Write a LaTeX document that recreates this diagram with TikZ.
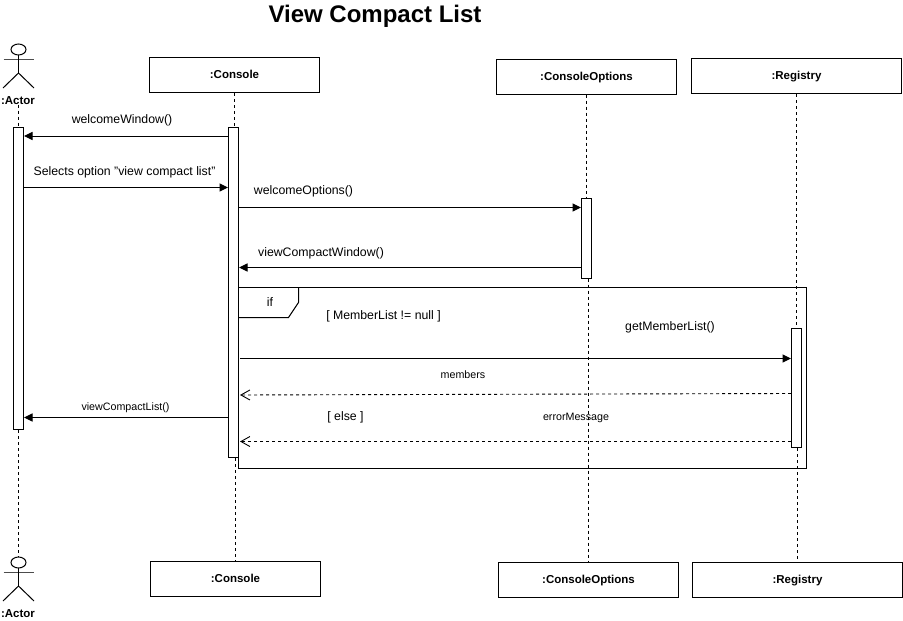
\documentclass[tikz,border=0pt]{standalone}
\usepackage{fontspec}
\setmainfont{Liberation Sans}
\usetikzlibrary{arrows.meta}
\tikzset{
  box/.style={draw,line width=1pt,fill=white,inner sep=0pt,text height=9pt,text depth=2pt,font=\fontsize{11.5}{13}\selectfont\bfseries},
  bar/.style={draw,line width=1pt,fill=white,inner sep=0pt,minimum width=10pt},
  life/.style={line width=1pt,dash pattern=on 3pt off 3pt},
  call/.style={line width=1pt,-{Triangle[length=8.5pt,width=8pt]}},
  reply/.style={line width=0.9pt,dash pattern=on 3pt off 3pt,-{Straight Barb[length=9pt,width=10pt]}},
  lbl/.style={inner sep=0pt,font=\fontsize{12.3}{14}\selectfont},
  small/.style={inner sep=0pt,font=\fontsize{10.7}{13}\selectfont},
  actorlbl/.style={inner sep=0pt,font=\fontsize{11.5}{13}\selectfont\bfseries}
}
\newcommand{\actorfig}[2]{%
  \draw[line width=1pt] (#1,#2) ellipse [x radius=7.5pt,y radius=5.5pt];
  \draw[line width=1pt,black!70] (#1-15,#2+9.5) -- (#1+15,#2+9.5);
  \draw[line width=1pt] (#1,#2+5.5) -- (#1,#2+23.5);
  \draw[line width=1pt] (#1-15.5,#2+38.5) -- (#1,#2+23.5) -- (#1+15.5,#2+38.5);
}
\begin{document}
\begin{tikzpicture}[x=1pt,y=-1pt]
\useasboundingbox[fill=white] (0,0) rectangle (903,621);
% title
\node[inner sep=0pt,font=\fontsize{24}{28}\selectfont\bfseries] (title) at (375,16) {View Compact List};
% frame
\node[draw,line width=1pt,minimum width=568pt,minimum height=181pt,inner sep=0pt] (frame) at (522.5,378) {};
\coordinate (tabA) at (238.5,317.5);
\coordinate (tabB) at (288.5,317.5);
\coordinate (tabC) at (298.5,302.5);
\coordinate (tabD) at (298.5,287.5);
\draw[line width=1pt] (tabA) -- (tabB) -- (tabC) -- (tabD);
% head boxes
\node[box,minimum width=170pt,minimum height=35pt] (conT) at (234.5,75) {:Console};
\node[box,minimum width=180pt,minimum height=35pt] (optT) at (586.5,76.5) {:ConsoleOptions};
\node[box,minimum width=210pt,minimum height=35pt] (regT) at (796.5,76) {:Registry};
\node[box,minimum width=170pt,minimum height=35pt] (conB) at (235.5,579) {:Console};
\node[box,minimum width=180pt,minimum height=35pt] (optB) at (588.5,579.5) {:ConsoleOptions};
\node[box,minimum width=210pt,minimum height=35pt] (regB) at (797.5,579.5) {:Registry};
% actors
\actorfig{18.5}{49.5}
\actorfig{18.5}{562.5}
\node[actorlbl] (actT) at (18,100.5) {:Actor};
\node[actorlbl] (actB) at (18,613.5) {:Actor};
\coordinate (headB) at (18.5,556.5);
% activations
\node[bar,minimum height=302.5pt] (barA) at (18.5,278.25) {};
\node[bar,minimum height=330.5pt] (barC) at (233.5,292.25) {};
\node[bar,minimum height=80pt] (barO) at (586.5,238) {};
\node[bar,minimum height=119.5pt] (barR) at (796.5,388) {};
% lifelines
\draw[life] (actT.south -| barA.north) -- (barA.north);
\draw[life] (barA.south) -- (headB);
\draw[life] (conT.south) -- (barC.north -| conT.south);
\draw[life] (barC.south -| conB.north) -- (conB.north);
\draw[life] (optT.south) -- (barO.north);
\draw[life] (barO.south -| optB.north) -- (optB.north);
\draw[life] (regT.south) -- (barR.north);
\draw[life] (barR.south -| regB.north) -- (regB.north);
% messages
\draw[call] (barC.west |- 0,136) -- (barA.east |- 0,136);
\draw[call] (barA.east |- 0,187.5) -- (barC.west |- 0,187.5);
\draw[call] (barC.east |- 0,207.5) -- (barO.west |- 0,207.5);
\draw[call] (barO.west |- 0,267.5) -- (barC.east |- 0,267.5);
\draw[call] (240,358.5) -- (barR.west |- 0,358.5);
\draw[reply] (barR.west |- 0,393.5) -- (240,395);
\draw[reply] (barR.west |- 0,441.5) -- (240,441.5);
\draw[call] (barC.west |- 0,417.5) -- (barA.east |- 0,417.5);
% labels
\node[lbl] (l1) at (122,120.5) {welcomeWindow()};
\node[lbl] (l2) at (124.5,172) {Selects option \symbol{34}view compact list\symbol{34}};
\node[lbl] (l3) at (303.5,191.5) {welcomeOptions()};
\node[lbl] (l4) at (321,253) {viewCompactWindow()};
\node[lbl] (l5) at (270,302.5) {if};
\node[lbl] (l6) at (383.5,316) {[ MemberList != null ]};
\node[lbl] (l7) at (670,327) {getMemberList()};
\node[small] (l8) at (463,374.5) {members};
\node[small] (l9) at (576,417.5) {errorMessage};
\node[small] (l10) at (125.5,407.5) {viewCompactList()};
\node[lbl] (l11) at (345.5,417) {[ else ]};
\end{tikzpicture}
\end{document}
